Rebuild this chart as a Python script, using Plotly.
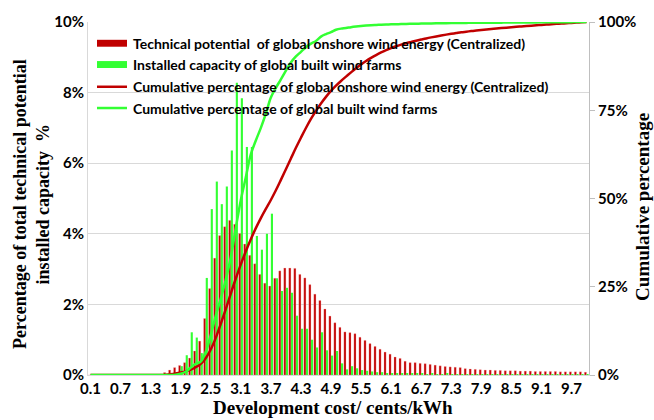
import numpy as np
import plotly.graph_objects as go

# Development cost categories (cents/kWh), one bin every 0.1
COST = [f"{i / 10:.1f}" for i in range(1, 101)]
TICK_LABELS = ["0.1", "0.7", "1.3", "1.9", "2.5", "3.1", "3.7", "4.3", "4.9",
               "5.5", "6.1", "6.7", "7.3", "7.9", "8.5", "9.1", "9.7"]

# Share of total technical potential of global onshore wind (centralized), %
TECH_POTENTIAL = [
    0, 0, 0, 0, 0, 0, 0, 0, 0, 0,
    0, 0, 0, 0, 0, 0.07, 0.14, 0.21, 0.27, 0.35,
    0.48, 0.68, 0.96, 1.60, 2.45, 3.31, 3.95, 4.20, 4.38, 4.27,
    4.01, 3.71, 3.39, 3.15, 2.85, 2.60, 2.52, 2.74, 2.95, 3.03,
    3.03, 3.02, 2.85, 2.75, 2.56, 2.29, 2.11, 1.87, 1.67, 1.48,
    1.35, 1.22, 1.20, 1.17, 1.07, 0.98, 0.89, 0.81, 0.73, 0.65,
    0.59, 0.51, 0.47, 0.39, 0.35, 0.35, 0.33, 0.32, 0.30, 0.28,
    0.26, 0.24, 0.23, 0.22, 0.21, 0.18, 0.17, 0.16, 0.15, 0.14,
    0.14, 0.13, 0.13, 0.12, 0.12, 0.12, 0.11, 0.11, 0.11, 0.10,
    0.10, 0.10, 0.10, 0.10, 0.09, 0.09, 0.09, 0.09, 0.09, 0.08,
]

# Share of installed capacity of global built wind farms, %
INSTALLED = [
    0, 0, 0, 0, 0, 0, 0, 0, 0, 0,
    0, 0, 0, 0, 0, 0, 0.02, 0.08, 0.25, 0.56,
    1.21, 1.06, 0.62, 2.75, 4.70, 5.48, 4.84, 5.34, 6.36, 8.28,
    7.84, 6.46, 6.46, 3.94, 3.55, 4.00, 4.57, 2.74, 2.38, 2.47,
    2.33, 1.68, 1.31, 1.31, 1.00, 0.78, 1.21, 0.70, 0.55, 0.68,
    0.33, 0.16, 0.25, 0.19, 0.14, 0.12, 0.10, 0.08, 0.08, 0.05,
    0.04, 0.04, 0.03, 0.05, 0.03, 0.03, 0.04, 0.02, 0.03, 0.02,
    0.02, 0.03, 0.02, 0.02, 0.02, 0.01, 0.01, 0.01, 0.01, 0.01,
    0.01, 0.01, 0.01, 0.01, 0.01, 0.01, 0.01, 0.01, 0.01, 0.01,
    0.01, 0.01, 0.01, 0.01, 0.01, 0.01, 0.01, 0.01, 0.01, 0.02,
]

SERIES_NAMES = [
    "Technical potential\u00a0 of global onshore wind energy (Centralized)",
    "Installed capacity of global built wind farms",
    "Cumulative percentage of global onshore wind energy (Centralized)",
    "Cumulative percentage of global built wind farms",
]

RED = "#C00000"
GREEN = "#33FF33"

# Cumulative shares (right axis)
tech = np.array(TECH_POTENTIAL)
inst = np.array(INSTALLED)
cum_tech = np.cumsum(tech) / tech.sum() * 100
cum_inst = np.cumsum(inst) / inst.sum() * 100

fig = go.Figure()
fig.add_bar(x=COST, y=TECH_POTENTIAL, name=SERIES_NAMES[0],
            marker=dict(color=RED, line=dict(color="rgba(255,170,170,0.8)", width=0.4)))
fig.add_bar(x=COST, y=INSTALLED, name=SERIES_NAMES[1],
            marker=dict(color=GREEN, line=dict(width=0)))
fig.add_scatter(x=COST, y=cum_tech, name=SERIES_NAMES[2], yaxis="y2", mode="lines",
                line=dict(color=RED, width=2.5, shape="spline", smoothing=1.0))
fig.add_scatter(x=COST, y=cum_inst, name=SERIES_NAMES[3], yaxis="y2", mode="lines",
                line=dict(color=GREEN, width=2.5, shape="spline", smoothing=1.0))

W, H = 654, 420
L, R, T, B = 88, 65, 18, 45
PW, PH = W - L - R, H - T - B


def px(x):
    return (x - L) / PW


def py(y):
    return (H - B - y) / PH


tick_font = dict(family="Lato", size=15, color="black", weight="bold")
title_font = dict(family="Liberation Serif", size=19, color="black", weight="bold")
legend_font = dict(family="Lato", size=14, color="black", weight="bold")

annotations = [
    dict(text="Development cost/ cents/kWh", x=px(333), y=py(408), xref="paper", yref="paper",
         showarrow=False, font=title_font, xanchor="center", yanchor="middle"),
    dict(text="Percentage of total technical potential<br>installed capacity\u00a0 %",
         x=px(32), y=py(202), xref="paper", yref="paper", textangle=-90,
         showarrow=False, font=dict(title_font, size=18), xanchor="center", yanchor="middle"),
    dict(text="Cumulative percentage", x=px(643), y=py(205), xref="paper", yref="paper",
         textangle=-90, showarrow=False, font=title_font, xanchor="center", yanchor="middle"),
]

# Legend keys drawn inside the plot area, top-left
shapes = []
row_y = [39.5, 61, 83.5, 105]
key_x0, key_x1 = 97, 127
shapes.append(dict(type="rect", xref="paper", yref="paper", x0=px(key_x0), x1=px(key_x1),
                   y0=py(row_y[0] - 3.5), y1=py(row_y[0] + 3.5), fillcolor=RED, line=dict(width=0)))
shapes.append(dict(type="rect", xref="paper", yref="paper", x0=px(key_x0), x1=px(key_x1),
                   y0=py(row_y[1] - 3.5), y1=py(row_y[1] + 3.5), fillcolor=GREEN, line=dict(width=0)))
shapes.append(dict(type="line", xref="paper", yref="paper", x0=px(key_x0), x1=px(key_x1),
                   y0=py(row_y[2]), y1=py(row_y[2]), line=dict(color=RED, width=2.5)))
shapes.append(dict(type="line", xref="paper", yref="paper", x0=px(key_x0), x1=px(key_x1),
                   y0=py(row_y[3]), y1=py(row_y[3]), line=dict(color=GREEN, width=2.5)))
for name, yy in zip(SERIES_NAMES, row_y):
    annotations.append(dict(text=name, x=px(131), y=py(yy), xref="paper", yref="paper",
                            showarrow=False, font=legend_font, xanchor="left", yanchor="middle"))

fig.update_layout(
    width=W, height=H,
    margin=dict(l=L, r=R, t=T, b=B),
    paper_bgcolor="white", plot_bgcolor="white",
    barmode="group", bargap=0.15, bargroupgap=0,
    showlegend=False,
    xaxis=dict(type="category", tickmode="array", tickvals=TICK_LABELS, ticktext=TICK_LABELS,
               range=[-0.5, len(COST) - 0.5], tickfont=tick_font, showgrid=False,
               showline=True, linecolor="#D9D9D9", linewidth=1, ticks="", tickangle=0),
    yaxis=dict(range=[0, 10], dtick=2, ticksuffix="%", tickfont=tick_font,
               showgrid=True, gridcolor="#D9D9D9", gridwidth=1, zeroline=False,
               showline=True, linecolor="#D9D9D9", ticks="", fixedrange=True),
    yaxis2=dict(range=[0, 100], dtick=25, ticksuffix="%", tickfont=tick_font,
                overlaying="y", side="right", showgrid=False, zeroline=False,
                showline=True, linecolor="#BFBFBF", ticks="outside", ticklen=5,
                tickcolor="#BFBFBF"),
    annotations=annotations,
    shapes=shapes,
)

fig.write_html("out.html")
